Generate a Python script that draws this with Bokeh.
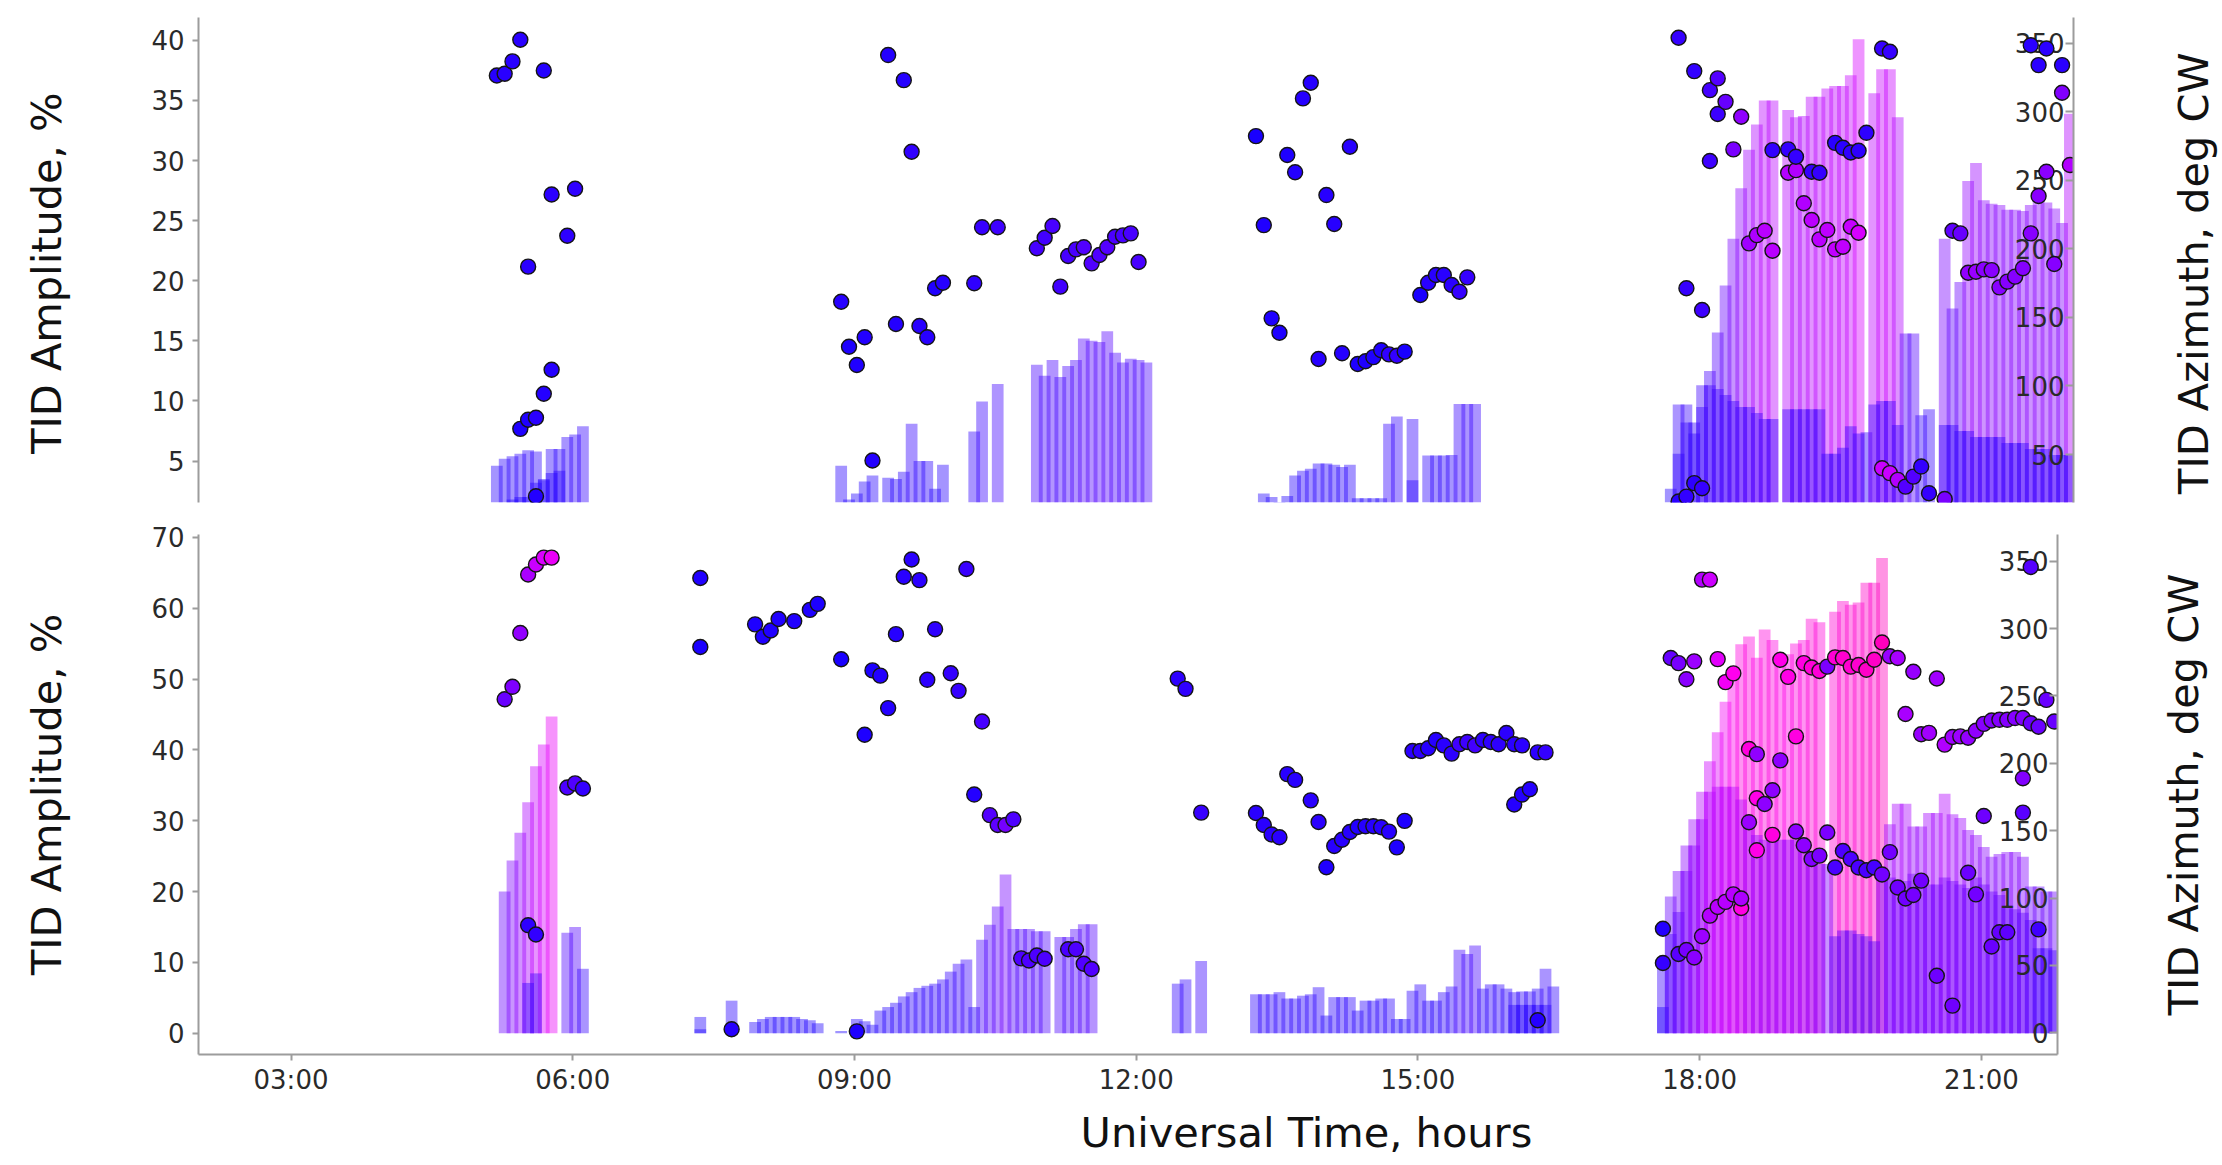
import math
from bokeh.plotting import figure
from bokeh.models import Range1d, LinearAxis, FixedTicker, ColumnDataSource, Title
from bokeh.layouts import column, row
from bokeh.embed import file_html
from bokeh.resources import INLINE
from bokeh.core.properties import value

N = None

# ------------------------------------------------------------------
# DATA  (5-minute samples; each segment: start time + per-sample lists)
# A = dominant TID component, B = secondary component
# amp in %, az in degrees clockwise
# ------------------------------------------------------------------

# ---- upper panel ----
T1_start = "05:11:30"
T1_ampA = [4.6, 5.2, 5.4, 5.6, 5.9, 5.8, 3.4, 6.0, 6.0, 7.0, 7.2, 7.9]
T1_ampB = [N, N, 1.8, 2.0, 2.0, 3.2, 3.5, 4.0, 4.2, N, N, N]
T1_azA = [326.4, 327.7, 336.7, 352.5, 187.0, 76.8, 330.0, 239.6, N, 209.5, 243.8, N]
T1_azB = [N, N, N, 68.7, 75.4, 19.6, 94.3, 111.8, N, N, N, N]

T2_start = "08:51:30"
T2_ampA = [4.6, 1.8, 2.3, 3.3, 3.8, N, 3.6, 3.5, 4.1, 8.1, 5.0, 5.0, 2.7, 4.7,
           N, N, N, 7.45, 9.95, N, 11.4, N, N, N, N,
           13.0, 12.1, 13.4, 12.0, 12.9, 13.4, 15.2, 15.0, 14.9, 15.8, 14.0, 13.2, 13.5, 13.4, 13.2]
T2_ampB = [N] * 40
T2_azA = [161.4, 128.6, 115.3, 135.5, 45.6, N, 341.3, 145.2, 323.0, 270.8, 143.7, 135.5, 171.2, 175.3,
          N, N, N, 174.9, 215.7, N, 215.7, N, N, N, N,
          200.4, 208.1, 216.6, 172.4, 194.8, 199.6, 201.1, 189.4, 195.5, 201.1, 208.8, 209.8, 211.3, 190.4, N]
T2_azB = [N] * 40

T3_start = "13:16:30"
T3_ampA = [N, 2.3, 2.0, 1.6, 2.1, 3.8, 4.2, 4.35, 4.8, 4.8, 4.7, 4.5, 4.7, 1.9, 1.9, 1.9, 1.9,
           8.1, 8.7, N, 8.5, N, 5.45, 5.45, 5.45, 5.5, 9.75, 9.75, 9.75]
T3_ampB = [N] * 20 + [3.4] + [N] * 8
T3_azA = [282.2, 217.3, 149.3, 138.8, 268.4, 255.8, 309.7, 321.1, 119.7, 239.2, 218.1, 123.8, 274.4,
          116.0, 118.0, 121.0, 126.0, 123.0, 122.0, 125.0, N, 166.3, 175.3, 180.9, 180.9, 173.6,
          168.7, 179.2, N]
T3_azB = [N] * 29

T4_start = "17:41:30"
T4_ampA = [2.7, 9.7, 9.7, 8.2, 11.3, 12.5, 15.7, 19.6, 23.5, 27.7, 30.9, 33.0, 35.0, 35.0, N,
           34.2, 33.6, 33.7, 35.3, 35.3, 36.0, 36.2, 36.2, 37.1, 40.1, 7.4, 35.6, 37.6, 37.6,
           33.6, 15.6, 15.6, 8.8, 9.3, N, 23.5, 17.7, 19.9, 28.3, 29.8, 26.7, 26.4, 26.3, 25.9,
           25.9, 25.8, 26.3, 26.7, 26.5, 26.0, 24.8, 33.9]
T4_ampB = [N, 5.6, 8.2, 7.3, 9.5, 11.3, 11.0, 10.5, 10.0, 9.5, 9.5, 9.0, 8.5, 8.5, N,
           9.3, 9.3, 9.3, 9.3, 9.3, 5.6, 5.6, 6.1, 7.9, 7.3, N, 9.7, 10.0, 10.0, 8.0,
           N, N, N, N, N, 8.0, 8.0, 7.5, 7.5, 7.0, 7.0, 7.0, 7.0, 6.5, 6.5,
           6.5, 6.0, 6.0, 6.0, 5.5, 5.5, 5.5]
T4_azA = [N, 353.9, 171.2, 329.6, 155.4, 315.7, 324.3, 307.2, 272.5, 296.3, 204.0, 210.0, 213.2,
          198.6, N, 255.5, 257.4, 233.2, 221.0, 206.9, 213.7, 199.6, 201.5, 216.1, 211.7, N, N,
          40.0, 36.4, 31.5, 26.6, 33.9, 41.2, 21.8, N, 17.6, 213.2, 211.3, 182.6, 183.3, 185.0,
          184.5, 171.9, 176.1, 179.7, 185.8, 211.3, 238.5, 256.2, 188.9, 313.8, 261.1]
T4_azB = [N, 15.7, 19.3, 29.1, 25.4, 264.0, 298.3, N, N, N, N, N, N, 272.0, N, 272.5, 267.1,
          N, 256.2, 255.5, N, 277.3, 273.7, 270.3, 271.5, 284.6, N, 346.1, 343.7] + [N] * 17 + \
         [348.5, 334.0, 346.1, N, 334.0, N]

# ---- lower panel ----
B1_start = "05:16:30"
B1_ampA = [20.0, 24.4, 28.3, 32.6, 37.7, 40.75, 44.7, N, 14.2, 15.0, 9.1]
B1_ampB = [N, N, N, 7.1, 8.45, N, N, N, N, N, N]
B1_azA = [247.6, 256.8, 296.8, 340.2, 347.6, 352.7, 352.7, N, 182.0, 185.1, 181.3]
B1_azB = [N, N, N, 79.8, 72.9, N, N, N, N, N, N]

B2_start = "07:21:30"
B2_ampA = [2.3, N, N, N, 4.6, N, N, 1.6, 2.0, 2.3, 2.3, 2.3, 2.3, 2.0, 1.85, 1.4, N, N, 0.3, N,
           2.0, 1.7, 1.2, 3.2, 3.7, 4.3, 5.2, 5.8, 6.4, 6.7, 7.0, 7.6, 8.7, 9.8, 10.4, 3.7,
           13.2, 15.3, 17.9, 22.4, 14.7, 14.7, 14.7, 14.4, 14.4, N, 13.6, 13.6, 14.7, 15.4, 15.4,
           N, N, N, N, N, N, N, N, N, N, 7.0, 7.6, N, 10.2]
B2_ampB = [0.55] + [N] * 19 + [1.0] + [N] * 44
B2_azA = [337.6, N, N, N, 2.5, N, N, 303.2, 294.0, 298.6, 307.2, N, 305.6, N, 313.9, 318.4, N, N,
          277.3, N, 1.0, 221.2, 269.0, 265.1, 241.0, 295.9, 338.5, 351.3, 336.0, 262.0, 299.6, N,
          266.9, 253.8, 344.3, 176.8, 231.0, 161.5, 154.2, 154.2, 158.4, 55.2, 53.6, 57.3, 54.9,
          N, N, 61.9, 61.9, 51.2, 47.3, N, N, N, N, N, N, N, N, N, N, 262.9, 255.3, N, 163.4]
B2_azB = [286.4] + [N] * 64

B3_start = "13:16:30"
B3_ampA = [5.5, 5.5, 5.5, 5.8, 4.9, 4.9, 5.3, 5.5, 6.5, 2.5, 5.1, 5.1, 5.1, 3.2, 4.6, 4.6, 4.9,
           4.9, 2.0, 2.0, 6.0, 6.9, 4.6, 4.6, 5.8, 6.6, 11.8, 11.2, 12.4, 6.3, 6.9, 6.9, 6.3,
           5.8, 5.9, 5.9, 6.3, 9.1, 6.6]
B3_ampB = [N] * 33 + [4.0, 4.0, 4.0, 4.0, 4.0, N]
B3_azA = [163.1, 154.2, 147.2, 145.1, 192.0, 187.7, N, 172.5, 156.4, 122.8, 138.6, 143.3, 149.0,
          152.7, 153.3, 153.3, 152.5, 149.3, 137.6, 157.3, 209.1, 209.1, 211.2, 217.3, 213.3,
          207.2, 214.2, 215.8, 213.3, 217.3, 215.8, 214.2, 222.5, 214.2, 213.3, N, 208.1, 208.1, N]
B3_azB = [N] * 33 + [169.4, 176.8, 180.7, 9.2, N, N]

B4_start = "17:36:30"
B4_ampA = [9.8, 19.3, 22.9, 26.5, 30.2, 34.1, 38.4, 42.5, 46.8, 50.8, 54.9, 56.0, 53.0, 57.0,
           55.5, 52.5, 53.5, 55.0, 55.5, 58.5, 58.0, N, 59.5, 61.0, 60.5, 60.8, 63.6, 63.6, 67.1,
           29.5, 32.4, 32.4, 29.2, 29.2, 31.1, 31.1, 33.8, 30.9, 30.4, 28.7, 28.0, 26.3, 24.9,
           25.3, 25.6, 25.6, 24.9, 20.7, 20.7, 20.0, 20.0]
B4_ampB = [3.7, 14.0, 17.1, 22.9, 26.5, 30.2, 34.1, 34.8, 34.8, 34.8, 33.0, 30.0, 28.0, 27.3,
           27.3, 27.3, 27.3, 27.3, 27.3, 25.0, 23.9, 23.9, 13.7, 14.5, 14.5, 14.0, 13.7, 13.0,
           22.0, 22.0, 21.5, 21.5, 22.5, 22.0, 21.0, 21.0, 22.0, 21.5, 21.0, 20.5, 22.0, 21.0,
           20.0, 19.5, 18.0, 17.5, 17.0, 16.0, 12.0, 12.0, 11.7]
B4_azA = [51.7, 278.2, 274.4, 262.4, 275.7, 336.4, 336.4, 277.4, 260.3, 266.8, 92.6, 210.6, 174.1,
          N, 146.9, 276.9, 264.2, 220.0, 274.4, 271.1, 268.5, 271.8, 278.7, 278.2, 271.8, 273.0,
          269.5, 276.9, 289.7, 279.5, 278.2, 236.6, 268.0, 221.6, 222.6, 263.0, 213.9, 219.5,
          220.0, 219.0, 224.2, 229.3, 231.8, 232.3, 232.3, 233.6, 233.6, 229.8, 227.2, 247.1, 231.0]
B4_azB = [77.2, N, 58.4, 61.4, 55.8, 71.6, 86.9, 93.3, 97.1, 102.7, 99.6, 156.3, 206.8, 169.8,
          180.0, 202.2, N, 149.4, 139.2, 129.0, 131.5, 148.6, 122.6, 134.9, 129.0, 122.6, 120.6,
          122.6, 117.5, 134.1, 107.8, 99.6, 102.2, 112.9, N, 42.3, N, 20.1, N, 118.8, 102.7,
          160.9, 64.0, 74.6, 74.6, N, 163.4, 345.8, 76.7, N, N]
B4_azC = [N] * 12 + [135.4] + [N] * 33 + [188.9] + [N] * 4

# axis ticks / labels
X_TICKS = [3, 6, 9, 12, 15, 18, 21]
X_LABELS = ["03:00", "06:00", "09:00", "12:00", "15:00", "18:00", "21:00"]
TOP_AMP_TICKS = [5, 10, 15, 20, 25, 30, 35, 40]
TOP_AZ_TICKS = [50, 100, 150, 200, 250, 300, 350]
BOT_AMP_TICKS = [0, 10, 20, 30, 40, 50, 60, 70]
BOT_AZ_TICKS = [0, 50, 100, 150, 200, 250, 300, 350]
AMP_TITLE = "TID Amplitude, %"
AZ_TITLE = "TID Azimuth, deg CW"
X_TITLE = "Universal Time, hours"

# ------------------------------------------------------------------
STEP_H = 5 / 60
BAR_W_H = 7.5 / 60
BAR_ALPHA = 0.42
FONT = "DejaVu Sans"
TITLE_SIZE = "41.5px"
AXIS_GRAY = "#9c9c9c"
RIGHT_BORDER = 83          # space right of each chart frame (same for both panels)
TOP_FRAME_RIGHT = 2073     # where each panel's right axis sits on the page
BOT_FRAME_RIGHT = 2057
NBSP = "\u00a0"

COLOR_STOPS = [(0, (25, 0, 255)), (10, (55, 0, 255)), (20, (105, 0, 255)), (30, (155, 0, 255)),
               (40, (215, 0, 255)), (50, (255, 0, 240)), (60, (255, 0, 210)), (70, (255, 0, 180))]


def amp_color(a):
    if a <= COLOR_STOPS[0][0]:
        c = COLOR_STOPS[0][1]
    elif a >= COLOR_STOPS[-1][0]:
        c = COLOR_STOPS[-1][1]
    else:
        for (a0, c0), (a1, c1) in zip(COLOR_STOPS, COLOR_STOPS[1:]):
            if a0 <= a <= a1:
                f = (a - a0) / (a1 - a0)
                c = tuple(round(u + (v - u) * f) for u, v in zip(c0, c1))
                break
    return "#%02x%02x%02x" % c


def hours(hms):
    h, m, s = (int(v) for v in hms.split(":"))
    return h + m / 60 + s / 3600


def collect(segments):
    ba = dict(x=[], top=[], color=[])
    bb = dict(x=[], top=[], color=[])
    pts = dict(x=[], y=[], color=[])
    for start, ampA, ampB, azA, azB, azC in segments:
        t0 = hours(start)
        for k in range(len(ampA)):
            t = t0 + k * STEP_H
            a, b = ampA[k], ampB[k]
            if a is not None:
                ba["x"].append(t); ba["top"].append(a); ba["color"].append(amp_color(a))
            if b is not None:
                bb["x"].append(t); bb["top"].append(b); bb["color"].append(amp_color(b))
            ca = a if a is not None else (b if b is not None else 0)
            cb = b if b is not None else (a if a is not None else 0)
            for arr, cv in ((azA, ca), (azB, cb), (azC, ca)):
                if arr is not None and arr[k] is not None:
                    pts["x"].append(t); pts["y"].append(arr[k]); pts["color"].append(amp_color(cv))
    return ba, bb, pts


def style_axis(ax):
    ax.axis_line_color = AXIS_GRAY
    ax.axis_line_width = 2
    ax.major_tick_line_color = AXIS_GRAY
    ax.major_tick_line_width = 2
    ax.minor_tick_line_color = None
    ax.major_label_text_font = FONT
    ax.major_label_text_font_size = "26px"
    ax.major_label_text_color = "#2a2a2a"
    ax.axis_label_text_font = FONT
    ax.axis_label_text_font_size = TITLE_SIZE
    ax.axis_label_text_font_style = "normal"
    ax.axis_label_text_color = "#111111"


def make_panel(segments, width, height, x_end, y_left, y_right, left_ticks, right_ticks,
               border_top, border_bottom, with_x_axis, left_title):
    p = figure(width=width, height=height, x_range=Range1d(2.015, x_end),
               y_range=Range1d(*y_left), output_backend="svg", toolbar_location=None,
               x_axis_location="below" if with_x_axis else None,
               min_border_left=198, min_border_right=RIGHT_BORDER,
               min_border_top=border_top, min_border_bottom=border_bottom)
    p.outline_line_color = None
    p.xgrid.visible = False
    p.ygrid.visible = False
    p.background_fill_color = "white"
    p.border_fill_color = "white"
    p.extra_y_ranges = {"az": Range1d(*y_right)}

    ly = p.yaxis[0]
    style_axis(ly)
    ly.ticker = FixedTicker(ticks=left_ticks)
    ly.major_tick_out = 6
    ly.major_tick_in = 0
    ly.major_label_standoff = 8
    ly.axis_label = left_title
    ly.axis_label_standoff = 77

    ry = LinearAxis(y_range_name="az", ticker=FixedTicker(ticks=right_ticks))
    style_axis(ry)
    ry.major_tick_in = 8
    ry.major_tick_out = 0
    ry.major_label_standoff = 0
    ry.major_label_overrides = {t: "" for t in right_ticks}
    p.add_layout(ry, "right")

    if with_x_axis:
        xa = p.xaxis[0]
        style_axis(xa)
        xa.ticker = FixedTicker(ticks=X_TICKS)
        xa.major_label_overrides = dict(zip(X_TICKS, X_LABELS))
        xa.major_tick_out = 6
        xa.major_tick_in = 0
        xa.major_label_standoff = 4
        p.add_layout(Title(text=X_TITLE, align="left", offset=882, standoff=17,
                           text_font=FONT, text_font_size=TITLE_SIZE, text_font_style="normal",
                           text_color="#111111"), "below")

    ba, bb, pts = collect(segments)
    p.vbar(x="x", top="top", bottom=0, width=BAR_W_H, fill_color="color", fill_alpha=BAR_ALPHA,
           line_color=None, source=ColumnDataSource(ba))
    p.vbar(x="x", top="top", bottom=0, width=BAR_W_H, fill_color="color", fill_alpha=BAR_ALPHA,
           line_color=None, source=ColumnDataSource(bb))

    # right-axis tick labels drawn inside the frame, as in the original
    p.text(x="x", y="y", text="text",
           source=ColumnDataSource(dict(x=[x_end] * len(right_ticks), y=right_ticks,
                                        text=[str(t) for t in right_ticks])),
           y_range_name="az", x_offset=-9, text_align="right", text_baseline="middle",
           text_font=value(FONT), text_font_size="26px", text_color="#2a2a2a")

    p.scatter(x="x", y="y", size=15, fill_color="color", line_color="#151515", line_width=1.4,
              y_range_name="az", source=ColumnDataSource(pts))
    return p


def title_strip(width, height, border_left, border_top, border_bottom, title):
    """Narrow strip whose (invisible) left axis carries the right-hand title,
    so that it reads bottom-to-top like in the original."""
    t = figure(width=width, height=height, x_range=Range1d(0, 1), y_range=Range1d(0, 1),
               output_backend="svg", toolbar_location=None, x_axis_location=None,
               min_border_left=border_left, min_border_right=0,
               min_border_top=border_top, min_border_bottom=border_bottom)
    t.outline_line_color = None
    t.xgrid.visible = False
    t.ygrid.visible = False
    ax = t.yaxis[0]
    style_axis(ax)
    ax.ticker = FixedTicker(ticks=[])
    ax.axis_line_color = None
    ax.major_tick_line_color = None
    ax.major_tick_out = 0
    ax.major_tick_in = 0
    ax.major_label_standoff = 0
    ax.axis_label = title
    ax.axis_label_standoff = 0
    return t


top_segments = [
    (T1_start, T1_ampA, T1_ampB, T1_azA, T1_azB, None),
    (T2_start, T2_ampA, T2_ampB, T2_azA, T2_azB, None),
    (T3_start, T3_ampA, T3_ampB, T3_azA, T3_azB, None),
    (T4_start, T4_ampA, T4_ampB, T4_azA, T4_azB, None),
]
bottom_segments = [
    (B1_start, B1_ampA, B1_ampB, B1_azA, B1_azB, None),
    (B2_start, B2_ampA, B2_ampB, B2_azA, B2_azB, None),
    (B3_start, B3_ampA, B3_ampB, B3_azA, B3_azB, None),
    (B4_start, B4_ampA, B4_ampB, B4_azA, B4_azB, B4_azC),
]

top_w = TOP_FRAME_RIGHT + RIGHT_BORDER
bot_w = BOT_FRAME_RIGHT + RIGHT_BORDER

# the upper titles sit a little below the middle of their panel in the original
p_top = make_panel(top_segments, top_w, 518, 21.98, (1.55, 41.9), (15.0, 368.7),
                   TOP_AMP_TICKS, TOP_AZ_TICKS, 17, 16, False, AMP_TITLE + NBSP * 2)
p_bot = make_panel(bottom_segments, bot_w, 647, 21.81, (-3.0, 70.4), (-16.2, 369.9),
                   BOT_AMP_TICKS, BOT_AZ_TICKS, 16, 107, True, AMP_TITLE)

t_top = title_strip(2222 - top_w, 518, 2217 - top_w, 17, 16, AZ_TITLE + NBSP * 2)
t_bot = title_strip(2222 - bot_w, 647, 2207 - bot_w, 16, 107, AZ_TITLE)

layout = column(row(p_top, t_top, spacing=0), row(p_bot, t_bot, spacing=0), spacing=0)
open("out.html", "w").write(file_html(layout, INLINE))
